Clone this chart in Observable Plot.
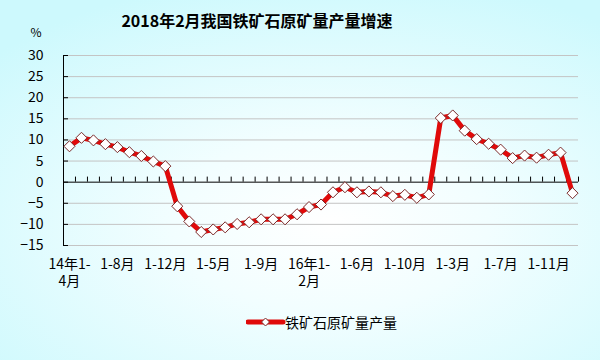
<!DOCTYPE html>
<html>
<head>
<meta charset="utf-8">
<script src="https://cdn.jsdelivr.net/npm/d3@7"></script>
<script src="https://cdn.jsdelivr.net/npm/@observablehq/plot@0.6"></script>
<style>
  html, body { margin: 0; padding: 0; }
  body {
    width: 600px; height: 360px; overflow: hidden;
    background: radial-gradient(ellipse 75% 70% at 55% 62%, #ffffff 0%, #f2feff 35%, #cdf9fd 100%);
    font-family: "Noto Sans CJK SC", "Noto Sans", sans-serif;
    color: #000;
  }
  #title { height: 28px; width: 514px; text-align: center; font-size: 16px; font-weight: bold; line-height: 24px; padding-top: 8px; box-sizing: border-box; }
  #chart svg { display: block; }
  #legend { position: relative; height: 60px; }
  #legend svg.key { position: absolute; left: 246px; top: 15px; }
  #legend span { position: absolute; left: 285px; top: 11px; font-size: 14px; line-height: 22px; }
</style>
</head>
<body>
<div id="title">2018年2月我国铁矿石原矿量产量增速</div>
<div id="chart"></div>
<div id="legend">
  <svg class="key" width="40" height="14">
    <line x1="2" y1="7" x2="37" y2="7" stroke="#e00a0a" stroke-width="5" stroke-linecap="round"></line>
    <path d="M19.5,3 L23.5,7 L19.5,11 L15.5,7 Z" fill="#fff" stroke="#7a2a2a" stroke-width="1"></path>
  </svg>
  <span>铁矿石原矿量产量</span>
</div>
<script>
const categories = [
  "14年1-4月","14年1-5月","14年1-6月","14年1-7月","14年1-8月","14年1-9月","14年1-10月","14年1-11月","14年1-12月",
  "15年1-2月","15年1-3月","15年1-4月","15年1-5月","15年1-6月","15年1-7月","15年1-8月","15年1-9月","15年1-10月","15年1-11月","15年1-12月",
  "16年1-2月","16年1-3月","16年1-4月","16年1-5月","16年1-6月","16年1-7月","16年1-8月","16年1-9月","16年1-10月","16年1-11月","16年1-12月",
  "17年1-2月","17年1-3月","17年1-4月","17年1-5月","17年1-6月","17年1-7月","17年1-8月","17年1-9月","17年1-10月","17年1-11月","17年1-12月",
  "18年1-2月"
];
const values = [
  8.5, 10.5, 9.9, 9.0, 8.3, 7.1, 6.2, 4.9, 3.8,
  -5.7, -9.3, -11.8, -11.2, -10.7, -9.9, -9.5, -8.8, -8.8, -8.8, -7.6,
  -5.9, -5.3, -2.4, -1.2, -2.4, -2.2, -2.4, -3.3, -3.0, -3.7, -2.9,
  15.2, 15.8, 12.2, 10.2, 9.1, 7.7, 5.7, 6.3, 5.8, 6.5, 7.0,
  -2.6
];
const tickIndex = [0, 4, 8, 12, 16, 20, 24, 28, 32, 36, 40];
const tickLabels = ["14年1-\n4月","1-8月","1-12月","1-5月","1-9月","16年1-\n2月","1-6月","1-10月","1-3月","1-7月","1-11月"];
const yTicks = [-15, -10, -5, 0, 5, 10, 15, 20, 25, 30];
const seriesName = "铁矿石原矿量产量";

const data = categories.map((c, i) => ({i, c, v: values[i]}));
const boundaries = d3.range(1, categories.length + 1).map(i => i - 0.5);

const chart = Plot.plot({
  width: 600,
  height: 272,
  marginLeft: 63,
  marginRight: 22,
  marginTop: 27,
  marginBottom: 55,
  style: {background: "transparent", fontFamily: "'Noto Sans CJK SC', sans-serif", fontSize: "14px", color: "#000", overflow: "visible"},
  x: {type: "linear", domain: [-0.5, categories.length - 0.5]},
  y: {domain: [d3.min(yTicks), d3.max(yTicks)]},
  marks: [
    Plot.ruleY(yTicks.filter(d => d !== 0), {stroke: "#c4c4c4", strokeWidth: 1}),
    Plot.ruleY([0], {stroke: "#000", strokeWidth: 1}),
    Plot.ruleX(boundaries, {y1: 0, y2: 1.2, stroke: "#000", strokeWidth: 1}),
    Plot.ruleX([-0.5], {stroke: "#000", strokeWidth: 1}),
    Plot.axisY({ticks: yTicks, tickSize: 5, dx: 5, tickPadding: 20, label: null, stroke: "#000"}),
    Plot.axisX({ticks: tickIndex, tickFormat: i => tickLabels[tickIndex.indexOf(i)], tickSize: 0, tickPadding: 11, label: null, lineHeight: 1.22}),
    Plot.line(data, {x: "i", y: "v", stroke: "#e00a0a", strokeWidth: 5, title: d => seriesName}),
    Plot.dot(data, {x: "i", y: "v", symbol: "diamond2", r: 5, fill: "#fff", stroke: "#7a2a2a", strokeWidth: 1}),
    Plot.text(["%"], {frameAnchor: "top-left", dx: -33, dy: -27, fontSize: 12})
  ]
});
document.getElementById("chart").appendChild(chart);
</script>
</body>
</html>
